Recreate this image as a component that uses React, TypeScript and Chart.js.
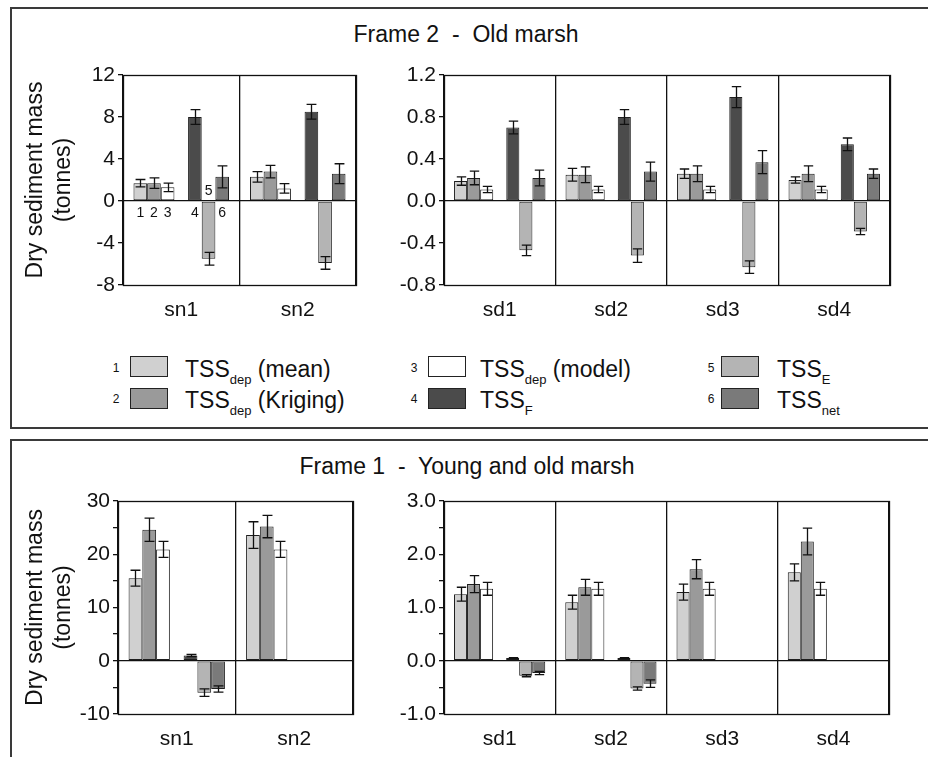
import React, { useEffect, useRef } from "react";
import { Chart, registerables } from "chart.js";

Chart.register(...registerables);

const FONT = "'Liberation Sans', Arial, Helvetica, sans-serif";

// ---------- categories ----------
const snCategories = ["sn1", "sn2"];
const sdCategories = ["sd1", "sd2", "sd3", "sd4"];

// ---------- series / legend ----------
const seriesNumbers = ["1", "2", "3", "4", "5", "6"];
const seriesMain = ["TSS", "TSS", "TSS", "TSS", "TSS", "TSS"];
const seriesSub = ["dep", "dep", "dep", "F", "E", "net"];
const seriesSuffix = [" (mean)", " (Kriging)", " (model)", "", "", ""];
const seriesColors = ["#d0d0d0", "#9a9a9a", "#ffffff", "#4b4b4b", "#b4b4b4", "#7a7a7a"];

// ---------- titles ----------
const frame2Title = "Frame 2  -  Old marsh";
const frame1Title = "Frame 1  -  Young and old marsh";
const yAxisTitle = ["Dry sediment mass", "(tonnes)"];

// ---------- Frame 2 - Old marsh : sn ----------
const f2snMean = [1.7, 2.3];
const f2snMeanErr = [0.35, 0.5];
const f2snKriging = [1.7, 2.8];
const f2snKrigingErr = [0.5, 0.6];
const f2snModel = [1.3, 1.2];
const f2snModelErr = [0.4, 0.45];
const f2snF = [8.0, 8.5];
const f2snFErr = [0.7, 0.7];
const f2snE = [-5.5, -5.9];
const f2snEErr = [0.6, 0.6];
const f2snNet = [2.3, 2.6];
const f2snNetErr = [1.05, 0.95];
const f2snTicks = [-8, -4, 0, 4, 8, 12];
const f2snMinorTicks: number[] = [];

// ---------- Frame 2 - Old marsh : sd ----------
const f2sdMean = [0.19, 0.25, 0.26, 0.2];
const f2sdMeanErr = [0.04, 0.06, 0.045, 0.03];
const f2sdKriging = [0.22, 0.25, 0.26, 0.26];
const f2sdKrigingErr = [0.065, 0.075, 0.075, 0.075];
const f2sdModel = [0.11, 0.11, 0.11, 0.11];
const f2sdModelErr = [0.03, 0.03, 0.03, 0.03];
const f2sdF = [0.7, 0.8, 0.99, 0.54];
const f2sdFErr = [0.06, 0.07, 0.1, 0.06];
const f2sdE = [-0.47, -0.52, -0.63, -0.29];
const f2sdEErr = [0.05, 0.065, 0.06, 0.03];
const f2sdNet = [0.22, 0.28, 0.37, 0.26];
const f2sdNetErr = [0.075, 0.09, 0.11, 0.045];
const f2sdTicks = [-0.8, -0.4, 0.0, 0.4, 0.8, 1.2];
const f2sdMinorTicks: number[] = [];

// ---------- Frame 1 - Young and old marsh : sn ----------
const f1snMean = [15.5, 23.6];
const f1snMeanErr = [1.5, 2.5];
const f1snKriging = [24.6, 25.2];
const f1snKrigingErr = [2.2, 2.1];
const f1snModel = [20.9, 20.9];
const f1snModelErr = [1.5, 1.5];
const f1snF = [1.0, null];
const f1snFErr = [0.2, null];
const f1snE = [-6.0, null];
const f1snEErr = [0.7, null];
const f1snNet = [-5.3, null];
const f1snNetErr = [0.6, null];
const f1snTicks = [-10, 0, 10, 20, 30];
const f1snMinorTicks = [-5, 5, 15, 25];

// ---------- Frame 1 - Young and old marsh : sd ----------
const f1sdMean = [1.25, 1.1, 1.29, 1.66];
const f1sdMeanErr = [0.13, 0.13, 0.15, 0.16];
const f1sdKriging = [1.44, 1.38, 1.72, 2.24];
const f1sdKrigingErr = [0.16, 0.15, 0.18, 0.25];
const f1sdModel = [1.35, 1.35, 1.35, 1.35];
const f1sdModelErr = [0.12, 0.12, 0.12, 0.12];
const f1sdF = [0.05, 0.05, null, null];
const f1sdFErr = [0.01, 0.01, null, null];
const f1sdE = [-0.28, -0.52, null, null];
const f1sdEErr = [0.02, 0.03, null, null];
const f1sdNet = [-0.23, -0.43, null, null];
const f1sdNetErr = [0.03, 0.07, null, null];
const f1sdTicks = [-1.0, 0.0, 1.0, 2.0, 3.0];
const f1sdMinorTicks = [-0.5, 0.5, 1.5, 2.5];

// ---------- plugins ----------
const boxPlugin = {
  id: "plotBox",
  afterDraw(chart: any) {
    const { ctx, chartArea } = chart;
    const l = Math.round(chartArea.left) + 0.5;
    const t = Math.round(chartArea.top) + 0.5;
    const r = Math.round(chartArea.right) + 0.5;
    const b = Math.round(chartArea.bottom) + 0.5;
    ctx.save();
    ctx.strokeStyle = "#111";
    ctx.lineWidth = 1.3;
    ctx.strokeRect(l, t, r - l, b - t);
    ctx.restore();
  },
};

const errorBarPlugin = {
  id: "errorBars",
  afterDatasetsDraw(chart: any) {
    const { ctx } = chart;
    const yScale = chart.scales.y;
    ctx.save();
    ctx.strokeStyle = "#111";
    ctx.lineWidth = 1.3;
    chart.data.datasets.forEach((ds: any, i: number) => {
      if (!ds.errors) return;
      const meta = chart.getDatasetMeta(i);
      meta.data.forEach((bar: any, j: number) => {
        const v = ds.data[j];
        const e = ds.errors[j];
        if (v == null || e == null) return;
        const { x, width } = bar.getProps(["x", "width"], true);
        const cx = Math.round(x) + 0.5;
        const yHi = yScale.getPixelForValue(v + e);
        const yLo = yScale.getPixelForValue(v - e);
        const cap = width * 0.36;
        ctx.beginPath();
        ctx.moveTo(cx, yHi);
        ctx.lineTo(cx, yLo);
        ctx.moveTo(cx - cap, yHi);
        ctx.lineTo(cx + cap, yHi);
        ctx.moveTo(cx - cap, yLo);
        ctx.lineTo(cx + cap, yLo);
        ctx.stroke();
      });
    });
    ctx.restore();
  },
};

const numberPlugin = {
  id: "slotNumbers",
  afterDatasetsDraw(chart: any) {
    const { ctx } = chart;
    const zero = chart.scales.y.getPixelForValue(0);
    ctx.save();
    ctx.fillStyle = "#111";
    ctx.font = `14px ${FONT}`;
    ctx.textAlign = "center";
    ctx.textBaseline = "middle";
    chart.data.datasets.forEach((ds: any, i: number) => {
      if (!ds.slotNumber) return;
      const bar = chart.getDatasetMeta(i).data[0];
      const v = ds.data[0];
      if (!bar || v == null) return;
      const y = v >= 0 ? zero + 12 : zero - 10;
      ctx.fillText(ds.slotNumber, bar.x, y);
    });
    ctx.restore();
  },
};

type Layout = { x: number; y: number; w: number; h: number; yWidth: number; padTop: number; padRight: number; xHeight: number };

type Spec = {
  labels: string[];
  values: (number | null)[][];
  errors: (number | null)[][];
  ticks: number[];
  minor: number[];
  decimals: number;
  showTitle: boolean;
  numbered: boolean;
  layout: Layout;
};

function buildConfig(spec: Spec): any {
  const { labels, values, errors, ticks, minor, decimals, showTitle, numbered, layout } = spec;
  const slotOrder = [0, 1, 2, -1, 3, 4, 5];
  const datasets: any[] = slotOrder.map((s) => {
    if (s < 0) {
      return { label: "", data: labels.map(() => null), backgroundColor: "rgba(0,0,0,0)", borderWidth: 0, categoryPercentage: 0.82, barPercentage: 1 };
    }
    return {
      label: seriesMain[s] + seriesSub[s] + seriesSuffix[s],
      data: values[s],
      errors: errors[s],
      slotNumber: numbered ? seriesNumbers[s] : null,
      backgroundColor: seriesColors[s],
      borderColor: "#1e1e1e",
      borderWidth: 1,
      borderSkipped: false,
      categoryPercentage: 0.82,
      barPercentage: 1,
    };
  });
  const allTicks = [...ticks, ...minor].sort((a, b) => a - b);
  const isMajor = (v: number) => ticks.some((t) => Math.abs(t - v) < 1e-9);
  const plugins: any[] = [boxPlugin, errorBarPlugin];
  if (numbered) plugins.push(numberPlugin);
  return {
    type: "bar",
    data: { labels, datasets },
    options: {
      responsive: false,
      animation: false,
      events: [],
      layout: { padding: { top: layout.padTop, right: layout.padRight, left: 0, bottom: 0 } },
      plugins: { legend: { display: false }, tooltip: { enabled: false } },
      scales: {
        x: {
          type: "category",
          offset: true,
          grid: { offset: true, color: "#111", lineWidth: 1.3, drawTicks: false },
          border: { display: false },
          ticks: { color: "#111", font: { family: FONT, size: 21 }, padding: 13, maxRotation: 0, autoSkip: false },
          afterFit: (s: any) => {
            s.height = layout.xHeight;
          },
        },
        y: {
          type: "linear",
          min: ticks[0],
          max: ticks[ticks.length - 1],
          afterBuildTicks: (s: any) => {
            s.ticks = allTicks.map((v) => ({ value: v }));
          },
          ticks: {
            callback: (v: any) => (isMajor(Number(v)) ? Number(v).toFixed(decimals) : ""),
            color: "#111",
            font: { family: FONT, size: 21 },
            padding: 3,
            autoSkip: false,
          },
          grid: {
            color: (c: any) => (c.tick && Math.abs(c.tick.value) < 1e-9 ? "#111" : "rgba(0,0,0,0)"),
            tickColor: "#111",
            tickLength: 5,
            lineWidth: 1.3,
          },
          border: { display: false },
          title: {
            display: showTitle,
            text: yAxisTitle,
            color: "#111",
            font: { family: FONT, size: 23, lineHeight: 1.2 },
            padding: { top: 11, bottom: 0 },
          },
          afterFit: (s: any) => {
            s.width = layout.yWidth;
          },
        },
      },
    },
    plugins,
  };
}

function Panel({ spec }: { spec: Spec }) {
  const ref = useRef<HTMLCanvasElement>(null);
  useEffect(() => {
    const chart = new Chart(ref.current as HTMLCanvasElement, buildConfig(spec));
    return () => chart.destroy();
  }, []);
  const { x, y, w, h } = spec.layout;
  return (
    <canvas
      ref={ref}
      width={w}
      height={h}
      style={{ position: "absolute", left: x, top: y, width: w, height: h }}
    />
  );
}

const panels: Spec[] = [
  {
    labels: snCategories,
    values: [f2snMean, f2snKriging, f2snModel, f2snF, f2snE, f2snNet],
    errors: [f2snMeanErr, f2snKrigingErr, f2snModelErr, f2snFErr, f2snEErr, f2snNetErr],
    ticks: f2snTicks,
    minor: f2snMinorTicks,
    decimals: 0,
    showTitle: true,
    numbered: true,
    layout: { x: 11, y: 50, w: 360, h: 285, yWidth: 112, padTop: 25, padRight: 15, xHeight: 50 },
  },
  {
    labels: sdCategories,
    values: [f2sdMean, f2sdKriging, f2sdModel, f2sdF, f2sdE, f2sdNet],
    errors: [f2sdMeanErr, f2sdKrigingErr, f2sdModelErr, f2sdFErr, f2sdEErr, f2sdNetErr],
    ticks: f2sdTicks,
    minor: f2sdMinorTicks,
    decimals: 1,
    showTitle: false,
    numbered: false,
    layout: { x: 390, y: 50, w: 520, h: 285, yWidth: 54, padTop: 25, padRight: 20, xHeight: 50 },
  },
  {
    labels: snCategories,
    values: [f1snMean, f1snKriging, f1snModel, f1snF, f1snE, f1snNet],
    errors: [f1snMeanErr, f1snKrigingErr, f1snModelErr, f1snFErr, f1snEErr, f1snNetErr],
    ticks: f1snTicks,
    minor: f1snMinorTicks,
    decimals: 0,
    showTitle: true,
    numbered: false,
    layout: { x: 11, y: 476, w: 360, h: 281, yWidth: 107, padTop: 25, padRight: 18, xHeight: 43 },
  },
  {
    labels: sdCategories,
    values: [f1sdMean, f1sdKriging, f1sdModel, f1sdF, f1sdE, f1sdNet],
    errors: [f1sdMeanErr, f1sdKrigingErr, f1sdModelErr, f1sdFErr, f1sdEErr, f1sdNetErr],
    ticks: f1sdTicks,
    minor: f1sdMinorTicks,
    decimals: 1,
    showTitle: false,
    numbered: false,
    layout: { x: 390, y: 476, w: 520, h: 281, yWidth: 54, padTop: 25, padRight: 21, xHeight: 43 },
  },
];

// legend placement: [column, row] for each series
const legendCols = [
  { num: 116, sw: 130, text: 185 },
  { num: 414, sw: 428, text: 480 },
  { num: 711, sw: 721, text: 777 },
];
const legendRows = [{ sw: 356, text: 357, num: 360 }, { sw: 388, text: 388, num: 391 }];
const legendPlace = [
  [0, 0],
  [0, 1],
  [1, 0],
  [1, 1],
  [2, 0],
  [2, 1],
];

function Legend() {
  return (
    <>
      {seriesNumbers.map((n, i) => {
        const col = legendCols[legendPlace[i][0]];
        const row = legendRows[legendPlace[i][1]];
        return (
          <React.Fragment key={n}>
            <div
              style={{ position: "absolute", left: col.num - 8, top: row.num, width: 16, textAlign: "center", font: `12px/16px ${FONT}`, color: "#111" }}
            >
              {n}
            </div>
            <div
              style={{ position: "absolute", left: col.sw, top: row.sw, width: 38, height: 21, boxSizing: "border-box", border: "1.5px solid #222", background: seriesColors[i] }}
            />
            <div
              style={{ position: "absolute", left: col.text, top: row.text, font: `23px/25px ${FONT}`, color: "#111", whiteSpace: "pre" }}
            >
              {seriesMain[i]}
              <span style={{ fontSize: 13, position: "relative", top: 7 }}>{seriesSub[i]}</span>
              {seriesSuffix[i]}
            </div>
          </React.Fragment>
        );
      })}
    </>
  );
}

export default function App() {
  return (
    <div style={{ position: "fixed", left: 0, top: 0, width: 928, height: 757, overflow: "hidden", background: "#fff" }}>
      <div style={{ position: "absolute", left: 10, top: 7, width: 1000, height: 422, boxSizing: "border-box", border: "2px solid #3a3a3a" }} />
      <div style={{ position: "absolute", left: 10, top: 439, width: 1000, height: 400, boxSizing: "border-box", border: "2px solid #3a3a3a" }} />
      <div style={{ position: "absolute", left: 466, top: 20, transform: "translateX(-50%)", font: `23px/28px ${FONT}`, color: "#111", whiteSpace: "pre" }}>
        {frame2Title}
      </div>
      <div style={{ position: "absolute", left: 467, top: 452, transform: "translateX(-50%)", font: `23px/28px ${FONT}`, color: "#111", whiteSpace: "pre" }}>
        {frame1Title}
      </div>
      {panels.map((p, i) => (
        <Panel key={i} spec={p} />
      ))}
      <Legend />
    </div>
  );
}
